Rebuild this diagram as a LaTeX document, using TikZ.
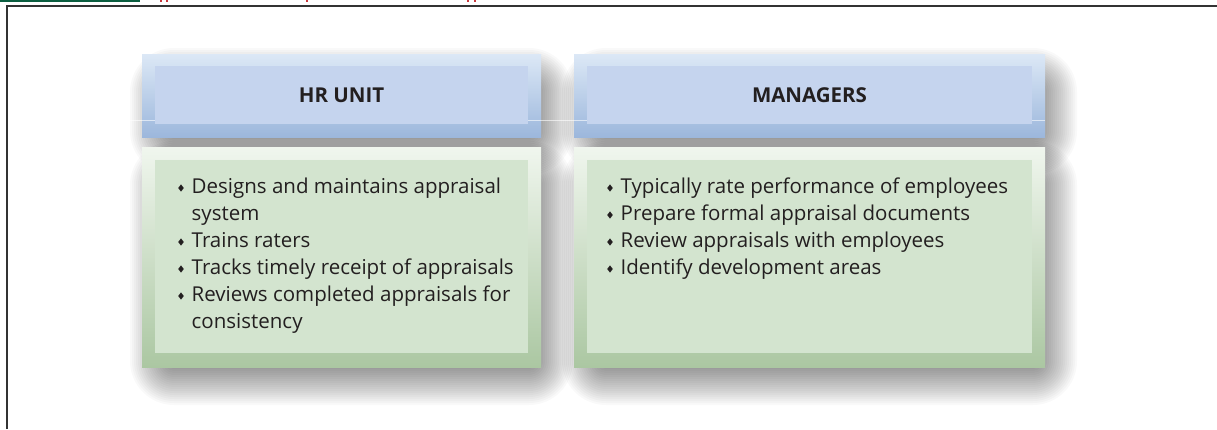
\documentclass[tikz,border=0pt]{standalone}
\usepackage{fontspec}
\setmainfont{Open Sans}

\definecolor{hdtop}{HTML}{DCE8F6}
\definecolor{hdbot}{HTML}{9CB7DC}
\definecolor{hdin}{HTML}{C5D4EE}
\definecolor{bdtop}{HTML}{F0F6EE}
\definecolor{bdbot}{HTML}{ABC7A2}
\definecolor{bdin}{HTML}{D3E4CF}
\definecolor{ink}{HTML}{231F20}
\definecolor{framegray}{HTML}{333333}
\definecolor{bargreen}{HTML}{0B5E40}
\definecolor{barred}{HTML}{C8383C}

\newcommand{\dia}{\tikz[baseline=-5pt]\fill[ink] (0,3.6pt)--(2.8pt,0)--(0,-3.6pt)--(-2.8pt,0)--cycle;}
\newcommand{\itm}{\makebox[13.5pt][l]{\dia}}
\newcommand{\cnt}{\hspace*{13.5pt}}
% soft shadow: #1 = x1, #2 = y1, #3 = x2, #4 = y2
\newcommand{\softshadow}[4]{%
    \foreach \r in {-20,-18,...,22}{
        \pgfmathsetmacro\rc{\r+22}
        \fill[black,opacity=0.025,rounded corners=\rc pt]
            (#1+10-\r,#2+16-\r) rectangle (#3+10+\r,#4+16+\r);
    }}

\tikzset{
    headbox/.style={rectangle,inner sep=0pt,minimum height=83pt,
        top color=hdtop,bottom color=hdbot},
    headin/.style={rectangle,inner sep=0pt,minimum height=58pt,fill=hdin},
    bodybox/.style={rectangle,inner sep=0pt,minimum height=220pt,
        top color=bdtop,bottom color=bdbot},
    bodyin/.style={rectangle,inner sep=0pt,minimum height=193pt,fill=bdin},
    title/.style={text=ink,font=\fontsize{20.5}{24}\selectfont\bfseries},
    itemlist/.style={text=ink,align=left,inner sep=0pt,anchor=base west,
        font=\fontsize{20.5}{27}\selectfont},
}

\begin{document}
\begin{tikzpicture}[x=1pt,y=-1pt]
    \useasboundingbox (0,0) rectangle (1217,429);
    \fill[white] (0,0) rectangle (1217,429);

    \fill[bargreen] (0,0) rectangle (140,2);
    \foreach \x in {160,166,306,467,474}{
        \fill[barred] (\x,0) rectangle (\x+2,2);
    }
    \draw[framegray,line width=2pt] (6.5,429) -- (6.5,5.5) -- (1217,5.5);

    \softshadow{142}{54}{541}{137}
    \softshadow{574}{54}{1045}{137}
    \softshadow{142}{147}{541}{367}
    \softshadow{574}{147}{1045}{367}

    \node[headbox,minimum width=399pt] (hrhead) at (341.5,95.5) {};
    \node[headbox,minimum width=471pt] (mghead) at (809.5,95.5) {};
    \draw[white,opacity=0.6,line width=0.8pt] (130,120) -- (1045,120);
    \node[bodybox,minimum width=399pt] (hrbody) at (341.5,257) {};
    \node[bodybox,minimum width=471pt] (mgbody) at (809.5,257) {};

    \node[headin,minimum width=373pt] (hrheadin) at (341.5,95) {};
    \node[headin,minimum width=445pt] (mgheadin) at (809.5,95) {};
    \node[bodyin,minimum width=373pt] (hrbodyin) at (341.5,256.5) {};
    \node[bodyin,minimum width=445pt] (mgbodyin) at (809.5,256.5) {};

    \node[title] (hrtitle) at (hrheadin) {HR UNIT};
    \node[title] (mgtitle) at (mgheadin) {MANAGERS};

    \node[itemlist] (hrlist) at (178,328) {%
        \itm Designs and maintains appraisal\\
        \cnt system\\
        \itm Trains raters\\
        \itm Tracks timely receipt of appraisals\\
        \itm Reviews completed appraisals for\\
        \cnt consistency};
    \node[itemlist] (mglist) at (607,274) {%
        \itm Typically rate performance of employees\\
        \itm Prepare formal appraisal documents\\
        \itm Review appraisals with employees\\
        \itm Identify development areas};
\end{tikzpicture}
\end{document}
